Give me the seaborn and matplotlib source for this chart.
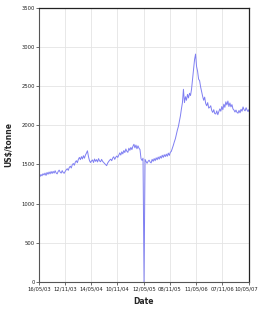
import pandas as pd
import numpy as np
import matplotlib
matplotlib.use("Agg")
import matplotlib.pyplot as plt
import matplotlib.transforms as mtransforms
import seaborn as sns

# weekly prices, US$/tonne, starting 16/05/03
prices = [
    1365, 1345, 1372, 1355, 1382, 1366, 1390, 1360, 1398, 1375, 1404, 1380, 1410,
    1385, 1412, 1390, 1420, 1392, 1380, 1410, 1428, 1402, 1390, 1422, 1396, 1388,
    1412, 1432, 1446, 1425, 1462, 1478, 1455, 1498, 1512, 1490, 1530, 1548, 1522,
    1565, 1590, 1562, 1600, 1570, 1612, 1580, 1620, 1645, 1675, 1600, 1550, 1525,
    1545, 1558, 1525, 1570, 1540, 1562, 1532, 1575, 1545, 1535, 1565, 1540, 1525,
    1512, 1498, 1485, 1518, 1538, 1555, 1568, 1548, 1582, 1598, 1565, 1592, 1608,
    1590, 1618, 1648, 1620, 1662, 1635, 1678, 1652, 1698, 1668, 1655, 1708, 1680,
    1718, 1690, 1732, 1758, 1712, 1748, 1700, 1738, 1708, 1690, 1575, 1552, 1580,
    0,
    1565, 1538, 1515, 1540, 1555, 1532, 1520, 1565, 1540, 1575, 1548, 1585, 1560,
    1595, 1568, 1605, 1580, 1618, 1590, 1625, 1600, 1632, 1605, 1645, 1615, 1655,
    1668, 1705, 1745, 1790, 1828, 1885, 1940, 1985, 2050, 2120, 2210, 2290, 2460,
    2290, 2365, 2320, 2395, 2350, 2410, 2380, 2460, 2590, 2710, 2840, 2910, 2750,
    2690, 2590, 2570, 2490, 2430, 2370, 2320, 2360, 2280, 2250, 2290, 2220, 2230,
    2250, 2190, 2165, 2200, 2150, 2145, 2185, 2135, 2175, 2210, 2180, 2240, 2200,
    2270, 2230, 2300, 2260, 2310, 2240, 2285, 2235, 2265, 2210, 2195, 2170, 2195,
    2165, 2155, 2190, 2160, 2205, 2180, 2235, 2200, 2185, 2225, 2195, 2175, 2205,
]
tick_dates = ["2003-05-16", "2003-11-12", "2004-05-14", "2004-11-10", "2005-05-12",
              "2005-11-08", "2006-05-11", "2006-11-07", "2007-05-10"]
y_ticks = [0, 500, 1000, 1500, 2000, 2500, 3000, 3500]

df = pd.DataFrame({
    "Date": pd.date_range("2003-05-16", periods=len(prices), freq="7D"),
    "price": prices,
})

sns.set_style("whitegrid")
plt.rcParams["font.family"] = ["DejaVu Sans"]

fig = plt.figure(figsize=(2.58, 3.15), dpi=100)
ax = fig.add_axes([0.151, 0.105, 0.814, 0.870])

sns.lineplot(data=df, x="Date", y="price", ax=ax, color="#7f7ff2", linewidth=0.7)

ticks = pd.to_datetime(tick_dates)
ax.set_xticks(ticks)
ax.set_xticklabels(ticks.strftime("%d/%m/%y"))
ax.set_xlim(ticks[0], ticks[-1])
ax.set_ylim(0, 3500)
ax.set_yticks(y_ticks)

ax.grid(True, color="#e4e4e4", linewidth=0.6)
for side in ["left", "bottom"]:
    ax.spines[side].set_color("#555555")
    ax.spines[side].set_linewidth(0.8)
for side in ["top", "right"]:
    ax.spines[side].set_color("#222222")
    ax.spines[side].set_linewidth(0.9)

ax.tick_params(axis="both", labelsize=3.8, length=2, width=0.6, pad=1,
               color="#555555", labelcolor="#222222", direction="out",
               bottom=True, left=True)
# last date label sits against the right edge, nudge it in a little
last = ax.get_xticklabels()[-1]
last.set_transform(last.get_transform() +
                   mtransforms.ScaledTranslation(-3 / 100, 0, fig.dpi_scale_trans))

ax.set_xlabel("Date", fontsize=5.5, fontweight="bold", labelpad=4)
ax.set_ylabel("US$/tonne", fontsize=5.5, fontweight="bold", labelpad=6)

fig.savefig("out.png", dpi=100, facecolor="white")
